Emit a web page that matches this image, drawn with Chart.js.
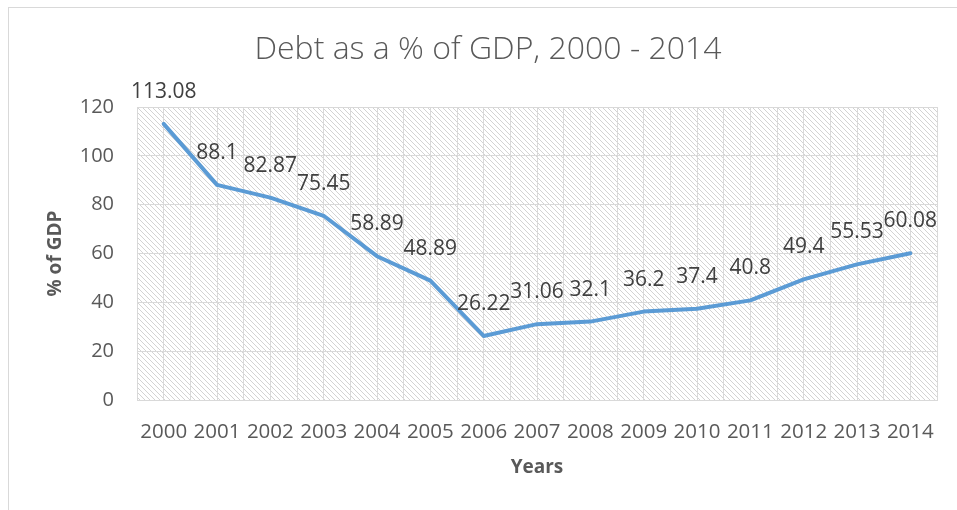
<!DOCTYPE html>
<html><head><meta charset="utf-8">
<script src="https://cdn.jsdelivr.net/npm/chart.js@4.4.0/dist/chart.umd.min.js"></script>
<style>
html,body{margin:0;padding:0;background:#fff;}
#wrap{position:relative;width:957px;height:510px;overflow:hidden;}
#frame{position:absolute;left:8px;top:7px;width:1000px;height:1000px;border-left:1px solid #d9d9d9;border-top:1px solid #d9d9d9;}
canvas{position:absolute;left:0;top:0;}
</style></head><body>
<div id="wrap"><div id="frame"></div><canvas id="c" width="957" height="510"></canvas></div>
<script>
const categories = ['2000','2001','2002','2003','2004','2005','2006','2007','2008','2009','2010','2011','2012','2013','2014'];
const debtValues = [113.08, 88.1, 82.87, 75.45, 58.89, 48.89, 26.22, 31.06, 32.1, 36.2, 37.4, 40.8, 49.4, 55.53, 60.08];
const yMin = 0, yMax = 120, yStep = 20;

const hatch = {
  id: 'hatch',
  beforeDraw(chart) {
    const {ctx, chartArea: a} = chart;
    const t = document.createElement('canvas');
    t.width = 5; t.height = 5;
    const g = t.getContext('2d');
    g.fillStyle = '#d3d3d3';
    for (let i = 0; i < 5; i++) g.fillRect(i, i, 1, 1);
    ctx.save();
    ctx.fillStyle = ctx.createPattern(t, 'repeat');
    ctx.fillRect(a.left, a.top, a.right - a.left, a.bottom - a.top);
    ctx.restore();
  }
};

const labels = {
  id: 'labels',
  afterDatasetsDraw(chart) {
    const {ctx} = chart;
    const meta = chart.getDatasetMeta(0);
    ctx.save();
    ctx.font = '21px "Open Sans"';
    ctx.fillStyle = '#404040';
    ctx.textAlign = 'center';
    ctx.textBaseline = 'middle';
    meta.data.forEach((p, i) => {
      ctx.fillText(String(debtValues[i]), p.x, p.y - 32);
    });
    ctx.restore();
  }
};

new Chart(document.getElementById('c'), {
  type: 'line',
  data: {
    datasets: [{
      data: debtValues.map((v, i) => ({x: i, y: v})),
      borderColor: '#5B9BD5',
      borderWidth: 4,
      pointRadius: 0,
      tension: 0,
      borderJoinStyle: 'round',
      borderCapStyle: 'round'
    }]
  },
  options: {
    responsive: false,
    animation: false,
    devicePixelRatio: 1,
    layout: {padding: {left: 36, right: 17, top: 0, bottom: 0}},
    plugins: {
      legend: {display: false},
      tooltip: {enabled: false},
      title: {
        display: true,
        text: 'Debt as a % of GDP, 2000 - 2014',
        color: '#595959',
        font: {family: 'Open Sans', size: 32, weight: 300},
        padding: {top: 30.8, bottom: 37.8}
      }
    },
    scales: {
      x: {
        type: 'linear',
        min: -0.5, max: 14.5,
        afterFit: s => { s.height = 110; },
        ticks: {
          stepSize: 0.5,
          autoSkip: false,
          maxRotation: 0,
          color: '#595959',
          font: {family: 'Open Sans', size: 20.5},
          padding: 20,
          callback: v => Number.isInteger(v) ? categories[v] : ''
        },
        grid: {color: '#d9d9d9', drawTicks: false},
        border: {color: '#d9d9d9'},
        title: {
          display: true, text: 'Years', color: '#595959',
          font: {family: 'Open Sans', size: 19, weight: 'bold'},
          padding: {top: 0, bottom: 30.6}
        }
      },
      y: {
        min: yMin, max: yMax,
        afterFit: s => { s.width = 101; },
        ticks: {
          stepSize: yStep,
          color: '#595959',
          font: {family: 'Open Sans', size: 20},
          padding: 23
        },
        grid: {color: '#d9d9d9', drawTicks: false},
        border: {display: false},
        title: {
          display: true, text: '% of GDP', color: '#595959',
          font: {family: 'Open Sans', size: 19, weight: 'bold'},
          padding: {top: 8.6, bottom: 0}
        }
      }
    }
  },
  plugins: [hatch, labels]
});
</script>
</body></html>
